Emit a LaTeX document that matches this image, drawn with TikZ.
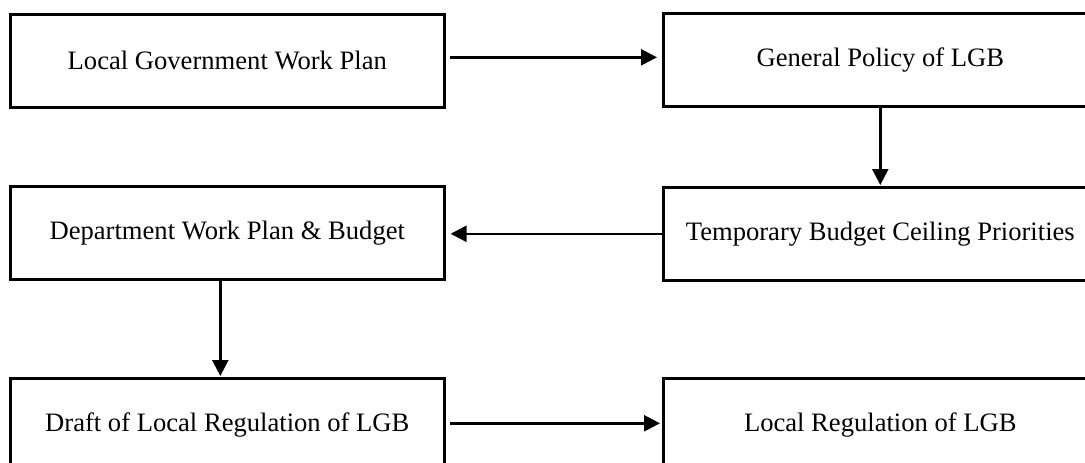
\documentclass[tikz,border=0pt]{standalone}
\usepackage{fontspec}
\setmainfont{Liberation Serif}
\usetikzlibrary{arrows.meta}
\begin{document}
\begin{tikzpicture}[x=1pt,y=-1pt,
  stagebox/.style={draw, line width=2.6pt, minimum width=434pt, minimum height=93pt,
    inner sep=0pt, anchor=north west, font=\fontsize{26.6}{32}\selectfont},
  flow/.style={-{Triangle[length=16pt,width=16pt]}, line width=2.4pt}]
\useasboundingbox (0,0) rectangle (1085,463);
\clip (0,0) rectangle (1085,463);
% left column
\node[stagebox] (lgwp)  at (9,13)  {Local Government Work Plan};
\node[stagebox] (dept)  at (9,185) {Department Work Plan \& Budget};
\node[stagebox] (draft) at (9,377) {Draft of Local Regulation of LGB};
% right column
\node[stagebox] (policy)  at (662,12)  {General Policy of LGB};
\node[stagebox] (ceiling) at (662,186) {Temporary Budget Ceiling Priorities};
\node[stagebox] (reg)     at (662,377) {Local Regulation of LGB};
% flow of the budget cycle
\draw[flow, shorten <=4pt, shorten >=5pt] ([yshift=3.5pt]lgwp.east) -- ([yshift=3.5pt]lgwp.east -| policy.west);
\draw[flow, shorten >=1pt] (policy.south) -- (ceiling.north);
\draw[flow, shorten >=5pt] (ceiling.west) -- (ceiling.west -| dept.east);
\draw[flow, shorten >=1pt] ([xshift=-7pt]dept.south) -- ([xshift=-7pt]draft.north);
\draw[flow, shorten <=4pt, shorten >=2pt] ([yshift=1.5pt]draft.east) -- ([yshift=1.5pt]draft.east -| reg.west);
\end{tikzpicture}
\end{document}
